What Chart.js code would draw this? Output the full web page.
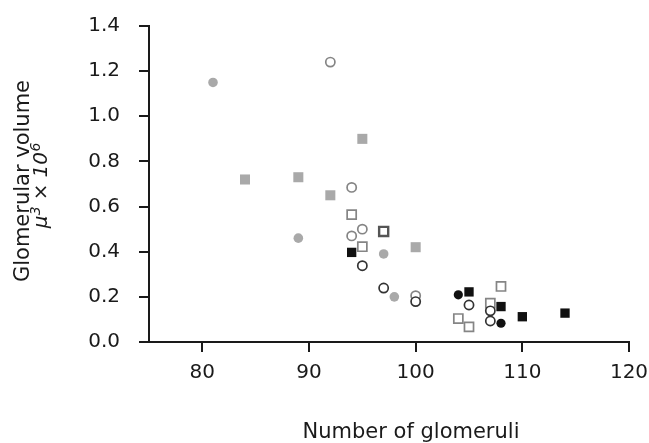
<!DOCTYPE html>
<html><head><meta charset="utf-8">
<script src="https://cdn.jsdelivr.net/npm/chart.js@4/dist/chart.umd.min.js"></script>
<style>html,body{margin:0;padding:0;background:#fff}canvas{display:block}</style>
</head><body>
<canvas id="c" width="649" height="443"></canvas>
<script>
// ---- data ----
const xTicks = [80, 90, 100, 110, 120];
const yTicks = [0, 0.2, 0.4, 0.6, 0.8, 1.0, 1.2, 1.4];
const yTickLabels = ['0.0', '0.2', '0.4', '0.6', '0.8', '1.0', '1.2', '1.4'];
const xTitle = 'Number of glomeruli';
const yTitle = 'Glomerular volume';

const grayCircleX = [81, 89, 97, 98];
const grayCircleY = [1.15, 0.46, 0.39, 0.20];
const graySquareX = [84, 89, 92, 95, 100];
const graySquareY = [0.72, 0.73, 0.65, 0.90, 0.42];
const openCircleLightX = [92, 94, 95, 94, 100];
const openCircleLightY = [1.24, 0.685, 0.50, 0.47, 0.205];
const openCircleDarkX = [95, 97, 100, 105, 107, 107];
const openCircleDarkY = [0.338, 0.239, 0.179, 0.164, 0.138, 0.093];
const openSquareX = [94, 95, 104, 105, 107, 108];
const openSquareY = [0.564, 0.422, 0.104, 0.067, 0.172, 0.246];
const openSquareDarkX = [97];
const openSquareDarkY = [0.49];
const blackCircleX = [104, 108];
const blackCircleY = [0.209, 0.083];
const blackSquareX = [94, 105, 108, 110, 114];
const blackSquareY = [0.397, 0.222, 0.157, 0.112, 0.128];

const pts = (xs, ys) => xs.map((x, i) => ({x: x, y: ys[i]}));

const FONT = "'DejaVu Sans', sans-serif";
const INK = '#1a1a1a';

const titlePlugin = {
  id: 'titles',
  afterDraw(chart) {
    const ctx = chart.ctx;
    ctx.save();
    ctx.fillStyle = INK;
    // x title
    ctx.font = `21px ${FONT}`;
    ctx.textAlign = 'center';
    ctx.textBaseline = 'alphabetic';
    ctx.fillText(xTitle, 411, 438);
    // y title line 1
    ctx.save();
    ctx.translate(28.5, 181);
    ctx.rotate(-Math.PI / 2);
    ctx.font = `21px ${FONT}`;
    ctx.textAlign = 'center';
    ctx.fillText(yTitle, 0, 0);
    ctx.restore();
    // y title line 2: italic mu^3 x 10^6
    ctx.save();
    ctx.translate(47, 185.5);
    ctx.rotate(-Math.PI / 2);
    ctx.textAlign = 'left';
    const segs = [
      {t: 'μ', f: `italic 20px ${FONT}`, dy: 0, gap: 0.5},
      {t: '3', f: `italic 14px ${FONT}`, dy: -7, gap: 6},
      {t: '×', f: `italic 20px ${FONT}`, dy: 0, gap: 6},
      {t: '10', f: `italic 20px ${FONT}`, dy: 0, gap: 0.5},
      {t: '6', f: `italic 14px ${FONT}`, dy: -7, gap: 0}
    ];
    let total = 0;
    segs.forEach(s => { ctx.font = s.f; s.w = ctx.measureText(s.t).width; total += s.w + s.gap; });
    let x = -total / 2;
    segs.forEach(s => { ctx.font = s.f; ctx.fillText(s.t, x, s.dy); x += s.w + s.gap; });
    ctx.restore();
    ctx.restore();
  }
};

const gridOpts = {
  display: true,
  drawOnChartArea: false,
  drawTicks: true,
  tickLength: 10,
  lineWidth: 2,
  color: INK
};

new Chart(document.getElementById('c'), {
  type: 'scatter',
  data: {
    datasets: [
      {data: pts(blackSquareX, blackSquareY), pointStyle: 'rect', pointRadius: 6.6, backgroundColor: '#111', borderWidth: 0},
      {data: pts(blackCircleX, blackCircleY), pointStyle: 'circle', pointRadius: 4.6, backgroundColor: '#111', borderWidth: 0},
      {data: pts(openCircleDarkX, openCircleDarkY), pointStyle: 'circle', pointRadius: 4.6, backgroundColor: '#fff', borderColor: '#333', borderWidth: 1.7},
      {data: pts(openCircleLightX, openCircleLightY), pointStyle: 'circle', pointRadius: 4.6, backgroundColor: '#fff', borderColor: '#858585', borderWidth: 1.7},
      {data: pts(openSquareDarkX, openSquareDarkY), pointStyle: 'rect', pointRadius: 6.4, backgroundColor: '#fff', borderColor: '#555', borderWidth: 2.4},
      {data: pts(openSquareX, openSquareY), pointStyle: 'rect', pointRadius: 6.4, backgroundColor: '#fff', borderColor: '#858585', borderWidth: 1.7},
      {data: pts(graySquareX, graySquareY), pointStyle: 'rect', pointRadius: 7.1, backgroundColor: '#a9a9a9', borderWidth: 0},
      {data: pts(grayCircleX, grayCircleY), pointStyle: 'circle', pointRadius: 4.8, backgroundColor: '#a9a9a9', borderWidth: 0}
    ]
  },
  options: {
    responsive: false,
    animation: false,
    events: [],
    layout: {padding: {left: 0, top: 26, right: 20, bottom: 0}},
    plugins: {legend: {display: false}, tooltip: {enabled: false}},
    scales: {
      x: {
        type: 'linear',
        min: 75, max: 120,
        afterFit: s => { s.height = 101; s.paddingLeft = 0; s.paddingRight = 0; },
        afterBuildTicks: s => { s.ticks = xTicks.map(v => ({value: v})); },
        grid: gridOpts,
        border: {display: true, width: 2, color: INK},
        ticks: {color: INK, font: {family: FONT, size: 20}, padding: 9, maxRotation: 0,
                callback: (v) => String(v)}
      },
      y: {
        type: 'linear',
        min: 0, max: 1.4,
        afterFit: s => { s.width = 149; s.paddingTop = 0; s.paddingBottom = 0; },
        afterBuildTicks: s => { s.ticks = yTicks.map(v => ({value: v})); },
        grid: gridOpts,
        border: {display: true, width: 2, color: INK},
        ticks: {color: INK, font: {family: FONT, size: 20}, padding: 19,
                callback: (v, i) => yTickLabels[i]}
      }
    }
  },
  plugins: [titlePlugin]
});
</script>
</body></html>
